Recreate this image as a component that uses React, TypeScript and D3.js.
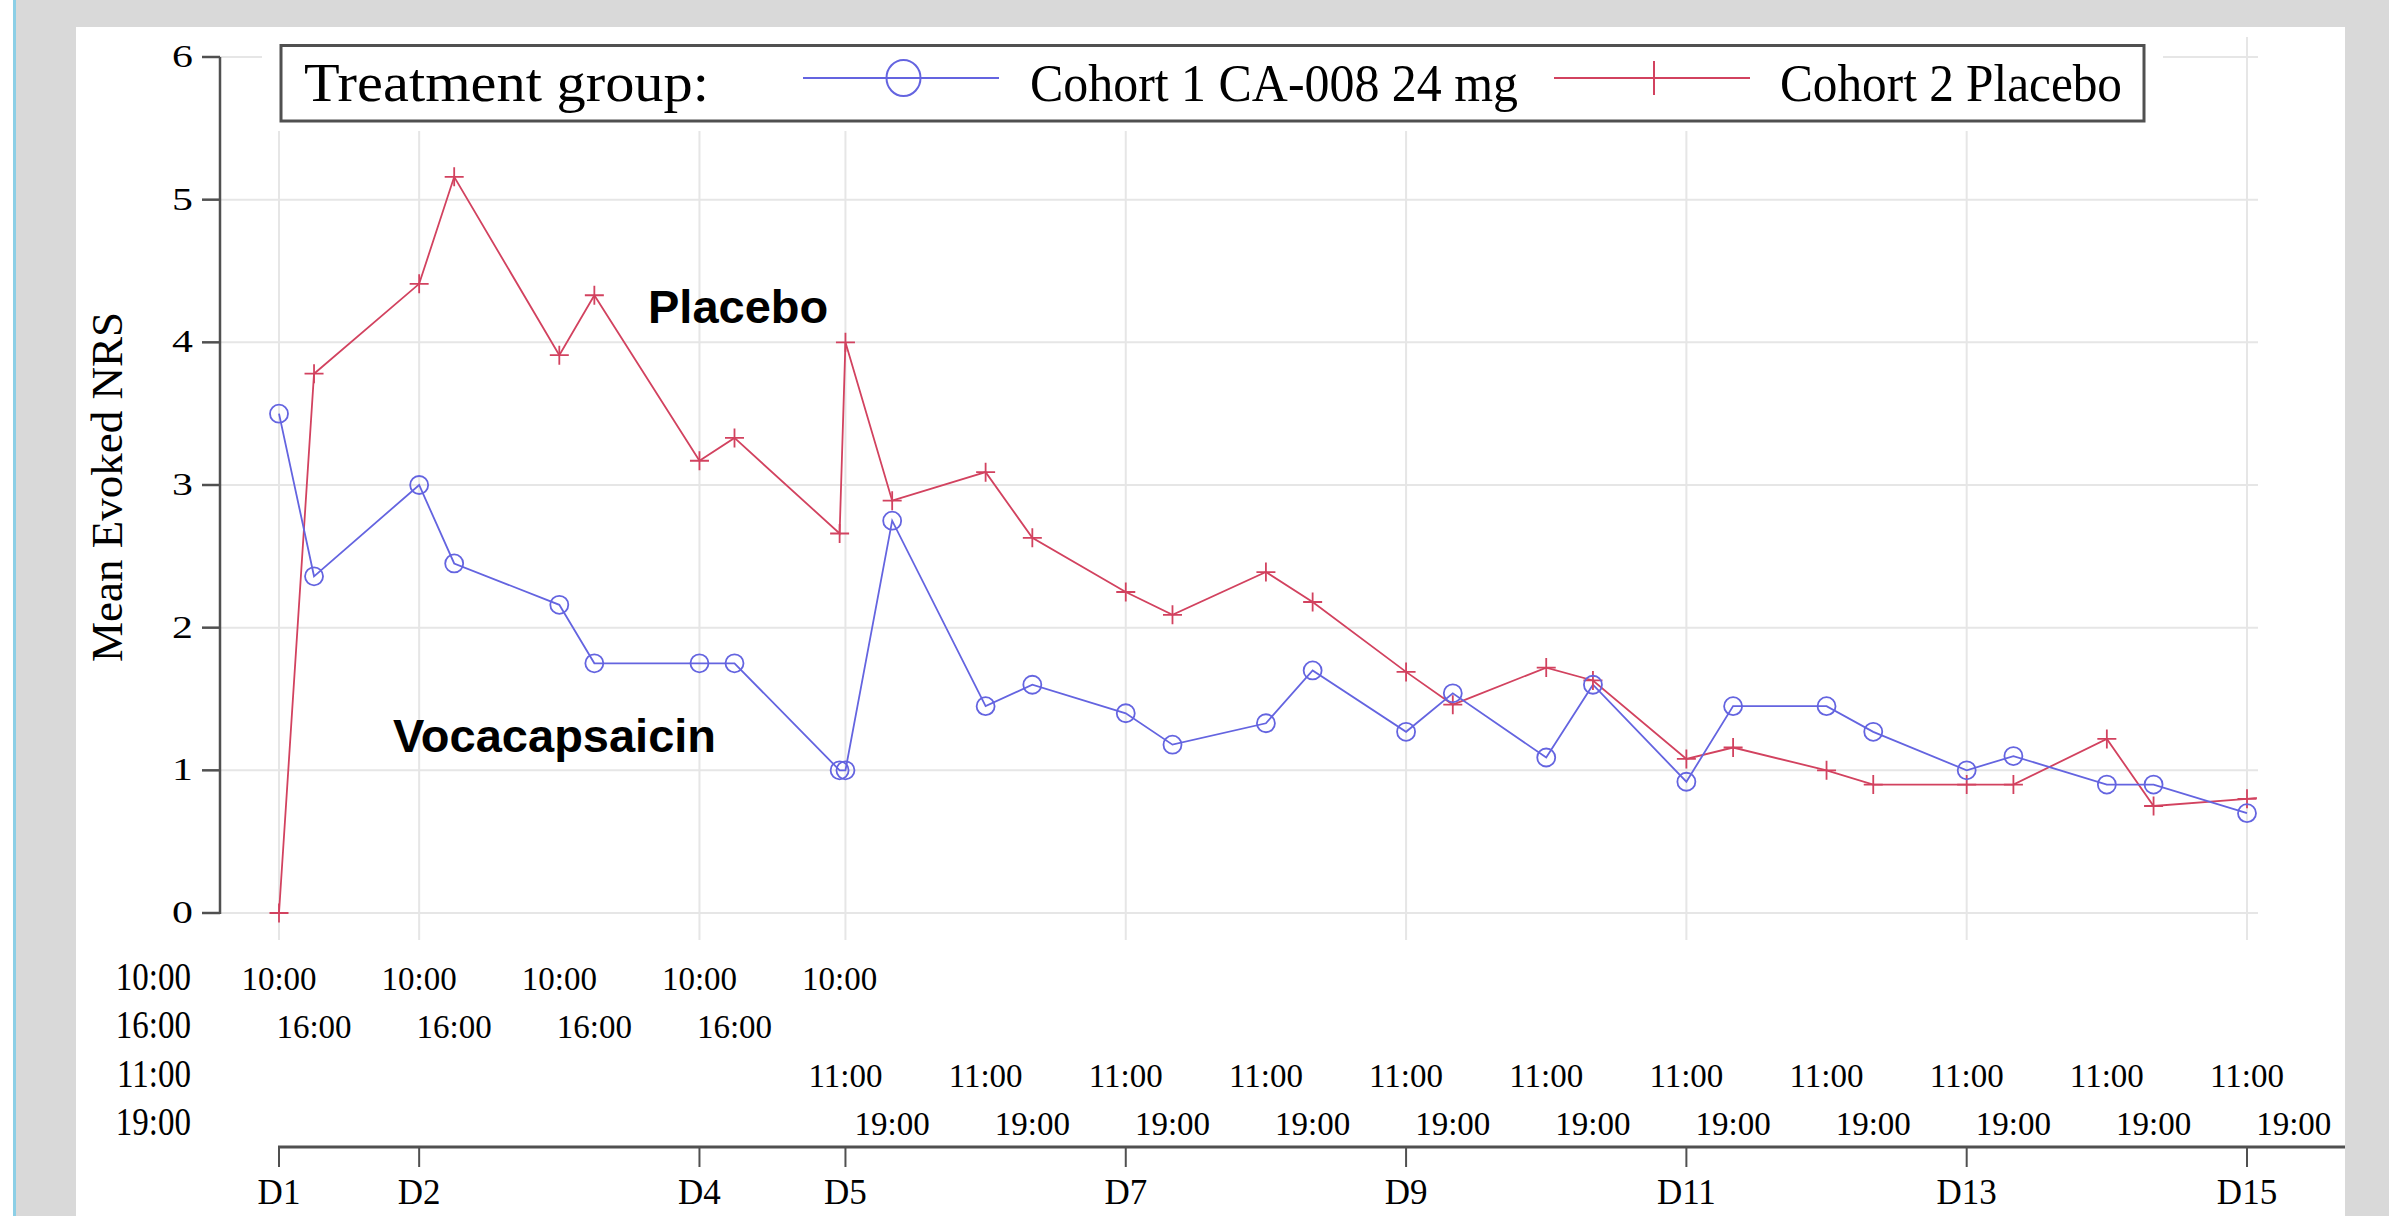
import React from "react";
import * as d3 from "d3";

// sampling times (study day + clock hour)
const pointDays = [1, 1, 2, 2, 3, 3, 4, 4, 5, 5, 5, 6, 6, 7, 7, 8, 8, 9, 9, 10, 10, 11, 11, 12, 12, 13, 13, 14, 14, 15, 15];
const pointHours = [10, 16, 10, 16, 10, 16, 10, 16, 10, 11, 19, 11, 19, 11, 19, 11, 19, 11, 19, 11, 19, 11, 19, 11, 19, 11, 19, 11, 19, 11, 19];

// mean evoked NRS
const cohort1 = [3.5, 2.36, 3.0, 2.45, 2.16, 1.75, 1.75, 1.75, 1.0, 1.0, 2.75, 1.45, 1.6, 1.4, 1.18, 1.33, 1.7, 1.27, 1.54, 1.09, 1.6, 0.92, 1.45, 1.45, 1.27, 1.0, 1.1, 0.9, 0.9, 0.7, null];
const cohort2 = [0, 3.78, 4.41, 5.16, 3.91, 4.33, 3.17, 3.33, 2.66, 4.0, 2.89, 3.09, 2.63, 2.25, 2.09, 2.39, 2.18, 1.69, 1.46, 1.72, 1.63, 1.08, 1.16, 1.0, 0.9, 0.9, 0.9, 1.22, 0.75, 0.8, 0.83];

const yTicks = [0, 1, 2, 3, 4, 5, 6];
const dayTicks = [1, 2, 4, 5, 7, 9, 11, 13, 15];
const dayTickHours = [10, 10, 10, 11, 11, 11, 11, 11, 11];

// rows of clock labels under the plot
const timeRows = [
  { label: "10:00", hour: 10, days: [1, 2, 3, 4, 5] },
  { label: "16:00", hour: 16, days: [1, 2, 3, 4] },
  { label: "11:00", hour: 11, days: [5, 6, 7, 8, 9, 10, 11, 12, 13, 14, 15] },
  { label: "19:00", hour: 19, days: [5, 6, 7, 8, 9, 10, 11, 12, 13, 14, 15] },
];

const BLUE = "#6464e0";
const RED = "#d2425f";
const GRID = "#e6e6e6";
const AXIS = "#505050";
const SERIF = "'Liberation Serif', 'Times New Roman', serif";
const SANS = "'Liberation Sans', Arial, sans-serif";

const t = (day: number, hour: number) => day + hour / 24;

export default function App() {
  const W = 2389, H = 1216;
  const x = d3.scaleLinear().domain([t(1, 10), t(15, 11)]).range([279, 2247]);
  const y = d3.scaleLinear().domain([0, 6]).range([913, 57]);
  const plotLeft = 220, plotRight = 2257, plotTop = 37, plotBottom = 940;

  const pts = pointDays.map((d, i) => ({ x: x(t(d, pointHours[i])), a: cohort1[i], b: cohort2[i] }));
  const lineA = d3.line<any>().defined((p) => p.a != null).x((p) => p.x).y((p) => y(p.a));
  const lineB = d3.line<any>().defined((p) => p.b != null).x((p) => p.x).y((p) => y(p.b));

  const rowBase = [990, 1038, 1087, 1135];
  const axisY = 1147;

  const plus = (cx: number, cy: number, s: number, key: any, w = 1.8) => (
    <path key={key} d={`M${cx - s},${cy}H${cx + s}M${cx},${cy - s}V${cy + s}`} stroke={RED} strokeWidth={w} fill="none" />
  );

  return (
    <svg width={W} height={H} style={{ position: "absolute", left: 0, top: 0 }}>
      <defs>
        <clipPath id="plotclip">
          <rect x={plotLeft} y={plotTop} width={plotRight - plotLeft} height={plotBottom - plotTop} />
        </clipPath>
      </defs>
      <rect x={0} y={0} width={W} height={H} fill="#ffffff" />
      <rect x={16} y={0} width={W - 16} height={H} fill="#d9d9d9" />
      <rect x={13} y={0} width={3} height={H} fill="#8ccfe6" />
      <rect x={76} y={27} width={2345 - 76} height={H - 27} fill="#ffffff" />

      {/* grid */}
      {yTicks.map((v) => (
        <line key={"hg" + v} x1={plotLeft} x2={plotRight + 1} y1={y(v)} y2={y(v)} stroke={GRID} strokeWidth={2} />
      ))}
      {dayTicks.map((d, i) => (
        <line key={"vg" + d} x1={x(t(d, dayTickHours[i]))} x2={x(t(d, dayTickHours[i]))} y1={plotTop} y2={plotBottom} stroke={GRID} strokeWidth={2} />
      ))}

      {/* legend */}
      <rect x={262} y={27} width={2163 - 262} height={131 - 27} fill="#ffffff" />
      <rect x={281} y={45.5} width={2144 - 281} height={121 - 45.5} fill="#ffffff" stroke={AXIS} strokeWidth={3} />
      <text x={304} y={101} fontFamily={SERIF} fontSize={54} fill="#000" textLength={405} lengthAdjust="spacingAndGlyphs">Treatment group:</text>
      <line x1={803} x2={999} y1={78} y2={78} stroke={BLUE} strokeWidth={2} />
      <ellipse cx={903.5} cy={78} rx={17} ry={18} fill="none" stroke={BLUE} strokeWidth={2} />
      <text x={1030} y={101} fontFamily={SERIF} fontSize={52} fill="#000" textLength={488} lengthAdjust="spacingAndGlyphs">Cohort 1 CA-008 24 mg</text>
      <line x1={1554} x2={1750} y1={78} y2={78} stroke={RED} strokeWidth={2} />
      {plus(1654, 78, 17, "lp", 2)}
      <text x={1780} y={101} fontFamily={SERIF} fontSize={52} fill="#000" textLength={342} lengthAdjust="spacingAndGlyphs">Cohort 2 Placebo</text>

      {/* series */}
      <g clipPath="url(#plotclip)">
        <path d={lineB(pts) || ""} fill="none" stroke={RED} strokeWidth={1.8} />
        <path d={lineA(pts) || ""} fill="none" stroke={BLUE} strokeWidth={1.8} />
        {pts.filter((p) => p.b != null).map((p, i) => plus(p.x, y(p.b), 9.5, "pb" + i))}
        {pts.filter((p) => p.a != null).map((p, i) => (
          <circle key={"pa" + i} cx={p.x} cy={y(p.a)} r={9} fill="none" stroke={BLUE} strokeWidth={1.8} />
        ))}
      </g>

      {/* y axis */}
      <line x1={plotLeft} x2={plotLeft} y1={y(6)} y2={y(0) + 1} stroke={AXIS} strokeWidth={2.5} />
      {yTicks.map((v) => (
        <g key={"yt" + v}>
          <line x1={202} x2={plotLeft} y1={y(v)} y2={y(v)} stroke={AXIS} strokeWidth={2.5} />
          <text transform={`translate(193,${y(v) + 10}) scale(1.35,1)`} textAnchor="end" fontFamily={SERIF} fontSize={31} fill="#000">{v}</text>
        </g>
      ))}
      <text transform={`translate(122,487) rotate(-90)`} textAnchor="middle" fontFamily={SERIF} fontSize={45} fill="#000">Mean Evoked NRS</text>

      {/* annotations */}
      <text x={648} y={323} fontFamily={SANS} fontWeight="bold" fontSize={47} fill="#000">Placebo</text>
      <text x={393} y={752} fontFamily={SANS} fontWeight="bold" fontSize={47} fill="#000">Vocacapsaicin</text>

      {/* clock rows */}
      {timeRows.map((row, ri) => (
        <g key={"row" + ri}>
          <text transform={`translate(191,${rowBase[ri]}) scale(1,1.22)`} textAnchor="end" fontFamily={SERIF} fontSize={33} fill="#000">{row.label}</text>
          {row.days.map((d) => (
            <text key={d} x={x(t(d, row.hour))} y={rowBase[ri]} textAnchor="middle" fontFamily={SERIF} fontSize={33} fill="#000">{row.label}</text>
          ))}
        </g>
      ))}

      {/* day axis */}
      <line x1={x(t(1, 10)) - 1} x2={2345} y1={axisY} y2={axisY} stroke={AXIS} strokeWidth={3} />
      {dayTicks.map((d, i) => {
        const px = x(t(d, dayTickHours[i]));
        return (
          <g key={"dt" + d}>
            <line x1={px} x2={px} y1={axisY} y2={axisY + 20} stroke={AXIS} strokeWidth={2} />
            <text x={px} y={1204} textAnchor="middle" fontFamily={SERIF} fontSize={35} fill="#000">{"D" + d}</text>
          </g>
        );
      })}
    </svg>
  );
}
